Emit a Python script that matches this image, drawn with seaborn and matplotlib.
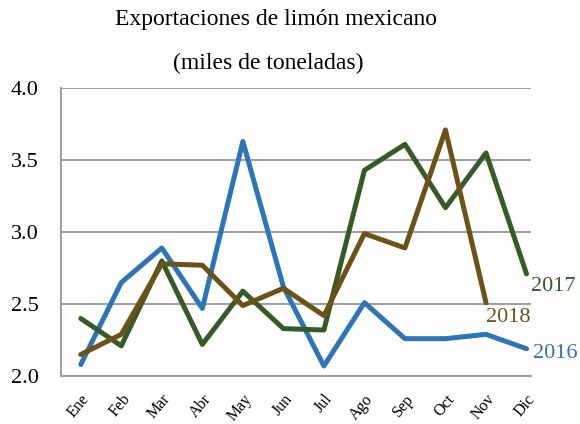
import pandas as pd
import matplotlib.pyplot as plt
import seaborn as sns

meses = ["Ene", "Feb", "Mar", "Abr", "May", "Jun", "Jul", "Ago", "Sep", "Oct", "Nov", "Dic"]
v2016 = [2.08, 2.65, 2.89, 2.47, 3.63, 2.62, 2.07, 2.51, 2.26, 2.26, 2.29, 2.19]
v2017 = [2.40, 2.21, 2.80, 2.22, 2.59, 2.33, 2.32, 3.43, 3.61, 3.17, 3.55, 2.71]
v2018 = [2.15, 2.29, 2.78, 2.77, 2.49, 2.61, 2.42, 2.99, 2.89, 3.71, 2.51]

colores = {"2016": "#2E75B6", "2017": "#375A2A", "2018": "#6B5216"}

sns.set_theme(style="white")
plt.rcParams["font.family"] = ["Liberation Serif", "DejaVu Serif"]

rows = []
for anio, vals in [("2016", v2016), ("2017", v2017), ("2018", v2018)]:
    for i, v in enumerate(vals):
        rows.append({"mes": i, "valor": v, "anio": anio})
df = pd.DataFrame(rows)

fig = plt.figure(figsize=(5.8, 4.24), dpi=100)
ax = fig.add_axes([0.105, 0.113, 0.8105, 0.679])

sns.lineplot(data=df, x="mes", y="valor", hue="anio", palette=colores,
             linewidth=3.6, legend=False, ax=ax, solid_capstyle="round")

ax.set_ylim(2.0, 4.0)
ax.set_yticks([2.0, 2.5, 3.0, 3.5, 4.0])
ax.set_yticklabels(["2.0", "2.5", "3.0", "3.5", "4.0"], fontsize=16, color="black")
ax.set_xlim(-0.49, 11.11)
ax.set_xticks(range(12))
ax.set_xticklabels(meses, rotation=50, fontsize=11.5, ha="right", rotation_mode="anchor", color="black")
ax.tick_params(axis="both", length=0)
ax.tick_params(axis="x", pad=11)
ax.tick_params(axis="y", pad=16)
ax.yaxis.grid(True, color="#A0A0A0", linewidth=1.5)
ax.set_axisbelow(True)
for s in ["top", "right"]:
    ax.spines[s].set_visible(False)
for s in ["left", "bottom"]:
    ax.spines[s].set_color("#A0A0A0")
    ax.spines[s].set_linewidth(1.5)
ax.set_xlabel("")
ax.set_ylabel("")

# etiquetas al final de cada serie
ax.text(11.1, v2017[-1] - 0.09, "2017", color=colores["2017"], fontsize=16, ha="left", va="center", clip_on=False)
ax.text(10.0, v2018[-1] - 0.1, "2018", color=colores["2018"], fontsize=16, ha="left", va="center", clip_on=False)
ax.text(11.15, v2016[-1] - 0.03, "2016", color=colores["2016"], fontsize=16, ha="left", va="center", clip_on=False)

fig.text(0.476, 0.955, "Exportaciones de limón mexicano", ha="center", va="center",
         fontsize=17, color="black")
fig.text(0.462, 0.85, "(miles de toneladas)", ha="center", va="center",
         fontsize=17, color="black")

fig.savefig("out.png", dpi=100)
